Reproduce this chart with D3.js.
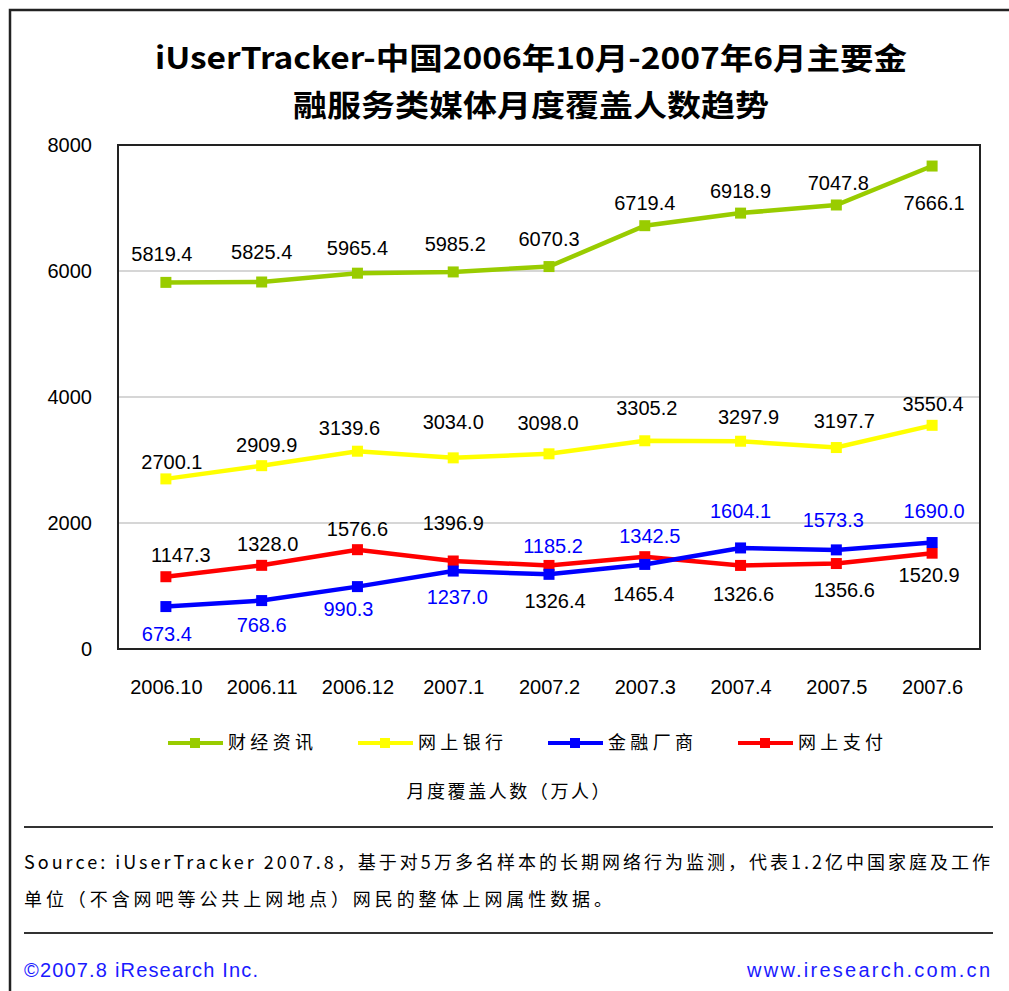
<!DOCTYPE html>
<html>
<head>
  <meta charset="utf-8">
  <title>iUserTracker 金融服务类媒体月度覆盖人数趋势</title>
  <script src="https://d3js.org/d3.v7.min.js"></script>
  <style>
    body { margin: 0; background: #fff; }
    svg text { font-family: "Liberation Sans", "Noto Sans CJK SC", sans-serif; }
    .cn { font-family: "Noto Sans CJK SC", "Liberation Sans", sans-serif; }
  </style>
</head>
<body>
<script type="text/javascript">
  // data (万人)
  var months = ["2006.10", "2006.11", "2006.12", "2007.1", "2007.2", "2007.3", "2007.4", "2007.5", "2007.6"];
  var seriesNames = ["财经资讯", "网上银行", "金融厂商", "网上支付"];
  var caijing = [5819.4, 5825.4, 5965.4, 5985.2, 6070.3, 6719.4, 6918.9, 7047.8, 7666.1];
  var wangyin = [2700.1, 2909.9, 3139.6, 3034.0, 3098.0, 3305.2, 3297.9, 3197.7, 3550.4];
  var jinrong = [673.4, 768.6, 990.3, 1237.0, 1185.2, 1342.5, 1604.1, 1573.3, 1690.0];
  var zhifu = [1147.3, 1328.0, 1576.6, 1396.9, 1326.4, 1465.4, 1326.6, 1356.6, 1520.9];
  var yTicks = [0, 2000, 4000, 6000, 8000];

  var w = 1009;
  var h = 991;
  // note: "top" is taken by window.top, so plot edges get their own names
  var plotLeft = 118, plotRight = 980, plotTop = 145, plotBottom = 649;

  // colours and label nudges (layout only, in pixels from the point)
  var colors = ["#99cc00", "#ffff00", "#0000ff", "#ff0000"];
  var labelColors = ["#000", "#000", "#0000ff", "#000"];
  var labelDy = [
    [-29, -30, -25, -28, -28, -23, -22, -22, 37],
    [-17, -21, -23, -36, -31, -33, -24, -27, -22],
    [27, 24, 22, 26, -29, -29, -37, -30, -32],
    [-22, -22, -21, -38, 35, 37, 28, 26, 22]
  ];
  var labelDx = [
    [-4, 0, 0, 2, 0, 0, 0, 2, 2],
    [6, 5, -8, 0, -1, 2, 8, 8, 1],
    [1, 0, -9, 4, 4, 5, 0, -3, 2],
    [15, 6, 0, 0, 6, -1, 3, 8, -3]
  ];

  var allSeries = [caijing, wangyin, jinrong, zhifu];

  var svg = d3.select("body").append("svg")
    .attr("width", w)
    .attr("height", h);

  // outer frame (right side runs off the picture)
  svg.append("path")
    .attr("d", "M10," + h + "V10H" + (w + 5))
    .attr("fill", "none")
    .attr("stroke", "#222")
    .attr("stroke-width", 2.5);

  // title
  svg.append("text")
    .attr("class", "cn")
    .attr("x", 531).attr("y", 69)
    .attr("text-anchor", "middle")
    .attr("textLength", 752)
    .attr("lengthAdjust", "spacingAndGlyphs")
    .style("font-size", "30px")
    .style("font-weight", "bold")
    .text("iUserTracker-中国2006年10月-2007年6月主要金");
  svg.append("text")
    .attr("class", "cn")
    .attr("x", 531).attr("y", 116)
    .attr("text-anchor", "middle")
    .attr("textLength", 476)
    .attr("lengthAdjust", "spacingAndGlyphs")
    .style("font-size", "30px")
    .style("font-weight", "bold")
    .text("融服务类媒体月度覆盖人数趋势");

  var x = d3.scalePoint()
    .domain(months)
    .range([plotLeft, plotRight])
    .padding(0.5);

  var y = d3.scaleLinear()
    .domain([0, 8000])
    .range([plotBottom, plotTop]);

  // gridlines
  svg.selectAll("line.grid")
    .data(yTicks.filter(function(d){ return d > 0 && d < 8000; }))
    .enter()
    .append("line")
    .attr("class", "grid")
    .attr("x1", plotLeft).attr("x2", plotRight)
    .attr("y1", function(d){ return y(d); })
    .attr("y2", function(d){ return y(d); })
    .attr("stroke", "#c8c8c8")
    .attr("stroke-width", 1.5);

  // plot border
  svg.append("rect")
    .attr("x", plotLeft).attr("y", plotTop)
    .attr("width", plotRight - plotLeft).attr("height", plotBottom - plotTop)
    .attr("fill", "none")
    .attr("stroke", "#222")
    .attr("stroke-width", 2);

  // axes, no tick marks
  var yAxis = svg.append("g")
    .attr("transform", "translate(" + plotLeft + ",0)")
    .call(d3.axisLeft(y).tickValues(yTicks).tickSize(0).tickPadding(26).tickFormat(d3.format("d")));
  yAxis.select(".domain").remove();
  yAxis.selectAll("text")
    .style("font-size", "20px")
    .style("font-family", "Liberation Sans, sans-serif")
    .attr("fill", "#000");

  var xAxis = svg.append("g")
    .attr("transform", "translate(0," + plotBottom + ")")
    .call(d3.axisBottom(x).tickSize(0).tickPadding(31));
  xAxis.select(".domain").remove();
  xAxis.selectAll("text")
    .style("font-size", "20px")
    .style("font-family", "Liberation Sans, sans-serif")
    .attr("fill", "#000");

  var line = d3.line()
    .x(function(d, i){ return x(months[i]); })
    .y(function(d){ return y(d); });

  // draw order: green, yellow, red, blue (blue sits over red where they cross)
  var drawOrder = [0, 1, 3, 2];
  drawOrder.forEach(function(s){
    var g = svg.append("g");
    g.append("path")
      .datum(allSeries[s])
      .attr("d", line)
      .attr("fill", "none")
      .attr("stroke", colors[s])
      .attr("stroke-width", 4.5);
    g.selectAll("rect")
      .data(allSeries[s])
      .enter()
      .append("rect")
      .attr("x", function(d, i){ return x(months[i]) - 5.5; })
      .attr("y", function(d){ return y(d) - 5.5; })
      .attr("width", 11)
      .attr("height", 11)
      .attr("fill", colors[s]);
  });

  // data labels
  allSeries.forEach(function(vals, s){
    svg.append("g").selectAll("text")
      .data(vals)
      .enter()
      .append("text")
      .attr("x", function(d, i){ return x(months[i]) + labelDx[s][i]; })
      .attr("y", function(d, i){ return y(d) + labelDy[s][i]; })
      .attr("dy", "0.36em")
      .attr("text-anchor", "middle")
      .attr("fill", labelColors[s])
      .style("font-size", "20px")
      .text(function(d){ return d.toFixed(1); });
  });

  // legend
  var legendX = [168, 358, 548, 738];
  var legendY = 743;
  var legend = svg.selectAll("g.legend")
    .data(seriesNames)
    .enter()
    .append("g")
    .attr("class", "legend")
    .attr("transform", function(d, i){ return "translate(" + legendX[i] + "," + legendY + ")"; });
  legend.append("line")
    .attr("x1", 0).attr("x2", 55)
    .attr("stroke", function(d, i){ return colors[i]; })
    .attr("stroke-width", 4);
  legend.append("rect")
    .attr("x", 22).attr("y", -5)
    .attr("width", 10).attr("height", 10)
    .attr("fill", function(d, i){ return colors[i]; });
  legend.append("text")
    .attr("class", "cn")
    .attr("x", 60)
    .attr("dy", "0.36em")
    .attr("textLength", 85)
    .style("font-size", "18px")
    .text(function(d){ return d; });

  // axis unit under legend
  svg.append("text")
    .attr("class", "cn")
    .attr("x", 508).attr("y", 792)
    .attr("dy", "0.36em")
    .attr("text-anchor", "middle")
    .attr("textLength", 203)
    .style("font-size", "18px")
    .text("月度覆盖人数（万人）");

  // separators
  [827, 933].forEach(function(yy){
    svg.append("line")
      .attr("x1", 24).attr("x2", 993)
      .attr("y1", yy).attr("y2", yy)
      .attr("stroke", "#333")
      .attr("stroke-width", 2);
  });

  // source note
  svg.append("text")
    .attr("class", "cn")
    .attr("x", 24).attr("y", 869)
    .attr("textLength", 966)
    .style("font-size", "18px")
    .text("Source: iUserTracker 2007.8，基于对5万多名样本的长期网络行为监测，代表1.2亿中国家庭及工作");
  svg.append("text")
    .attr("class", "cn")
    .attr("x", 24).attr("y", 906)
    .attr("textLength", 588)
    .style("font-size", "18px")
    .text("单位（不含网吧等公共上网地点）网民的整体上网属性数据。");

  // footer
  svg.append("text")
    .attr("x", 24).attr("y", 977)
    .attr("textLength", 234)
    .attr("fill", "#1a1aff")
    .style("font-size", "20px")
    .text("©2007.8 iResearch Inc.");
  svg.append("text")
    .attr("x", 990).attr("y", 977)
    .attr("text-anchor", "end")
    .attr("textLength", 243)
    .attr("fill", "#1a1aff")
    .style("font-size", "20px")
    .text("www.iresearch.com.cn");
</script>
</body>
</html>
